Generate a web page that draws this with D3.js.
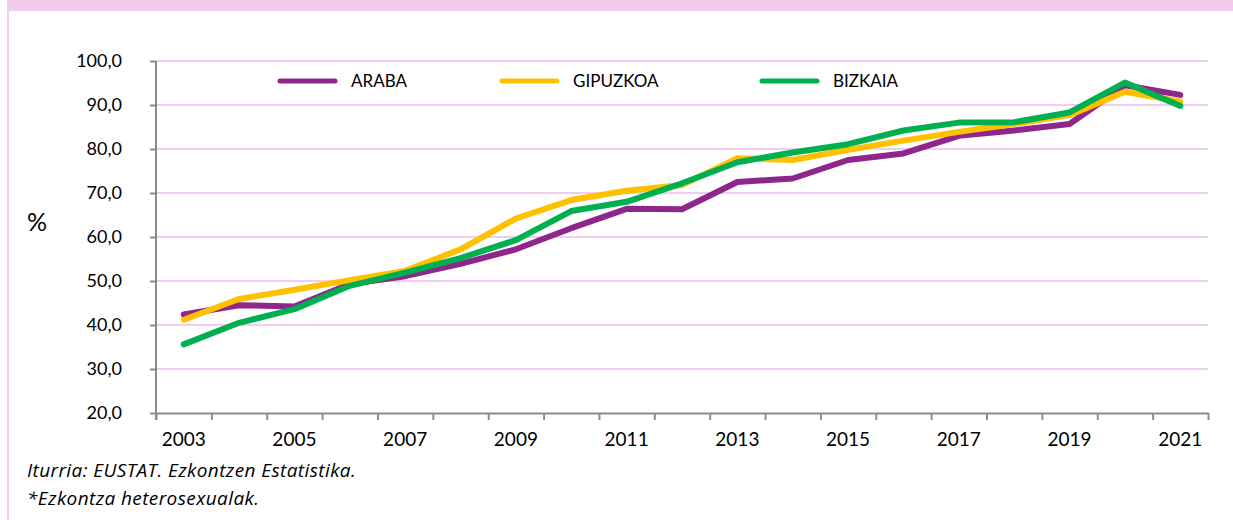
<!DOCTYPE html>
<html>
<head>
  <meta charset="utf-8">
  <title>Ezkontzak</title>
  <script src="https://d3js.org/d3.v7.min.js"></script>
  <style>
    body { margin: 0; background: #fff; }
    text { font-family: Lato, "Open Sans", sans-serif; fill: #000; }
  </style>
</head>
<body>
  <div id="chart"></div>

<script>
  // data
  const years = d3.range(2003, 2022);
  const yearLabels = [2003, 2005, 2007, 2009, 2011, 2013, 2015, 2017, 2019, 2021];
  const yTicks = [20, 30, 40, 50, 60, 70, 80, 90, 100];
  const araba    = [42.4, 44.5, 44.2, 49.3, 51.1, 53.9, 57.2, 62.0, 66.4, 66.3, 72.5, 73.3, 77.5, 79.0, 83.0, 84.2, 85.7, 94.5, 92.3];
  const gipuzkoa = [41.2, 45.9, 48.0, 50.2, 52.3, 57.2, 64.2, 68.4, 70.5, 71.8, 77.9, 77.5, 79.8, 81.9, 83.9, 85.7, 87.7, 93.0, 90.8];
  const bizkaia  = [35.6, 40.5, 43.6, 48.9, 51.9, 55.2, 59.3, 65.9, 68.0, 72.2, 77.0, 79.2, 81.1, 84.2, 86.0, 86.1, 88.3, 95.1, 89.8];
  const seriesNames = ["ARABA", "GIPUZKOA", "BIZKAIA"];
  const seriesColors = ["#8f268c", "#ffc000", "#00b050"];

  const series = [araba, gipuzkoa, bizkaia].map((vals, i) => ({
    name: seriesNames[i], color: seriesColors[i], values: vals
  }));

  const W = 1233, H = 520;
  const margin = {top: 61, right: 25, bottom: 107, left: 156};
  const width = W - margin.left - margin.right,
        height = H - margin.top - margin.bottom;

  const svg = d3.select("#chart").append("svg")
      .attr("width", W)
      .attr("height", H);

  svg.append("rect").attr("width", W).attr("height", H).attr("fill", "#fff");

  // pink frame: band on top, thin line on the left
  svg.append("rect").attr("x", 7).attr("y", 0).attr("width", W - 7).attr("height", 11).attr("fill", "#f0cbee");
  svg.append("rect").attr("x", 7).attr("y", 0).attr("width", 2).attr("height", H).attr("fill", "#f0cbee");

  const g = svg.append("g").attr("transform", `translate(${margin.left},${margin.top})`);

  const x = d3.scaleBand().domain(years).range([0, width]);
  const xIdx = d3.scaleLinear().domain([0, years.length]).range([0, width]);
  const y = d3.scaleLinear().domain([20, 100]).range([height, 0]);

  // gridlines
  g.append("g").selectAll("line")
    .data(yTicks.filter(d => d > 20))
    .join("line")
      .attr("x1", 0).attr("x2", width)
      .attr("y1", d => y(d)).attr("y2", d => y(d))
      .attr("stroke", "#f0cdf0")
      .attr("stroke-width", 2);

  // y axis
  const yAxis = g.append("g")
    .call(d3.axisLeft(y).tickValues(yTicks).tickSize(6).tickSizeOuter(0).tickPadding(28)
      .tickFormat(d => d3.format(".1f")(d).replace(".", ",")));
  yAxis.selectAll("text").style("font-size", "18px");

  // x axis: ticks on category boundaries, labels on odd years
  g.append("g")
    .attr("transform", `translate(0,${height})`)
    .call(d3.axisBottom(xIdx).tickValues(d3.range(0, years.length + 1)).tickSize(7).tickSizeOuter(0).tickFormat(""));
  const xLabAxis = g.append("g")
    .attr("transform", `translate(0,${height})`)
    .call(d3.axisBottom(x).tickValues(yearLabels).tickSize(0).tickPadding(20));
  xLabAxis.select(".domain").remove();
  xLabAxis.selectAll("text").style("font-size", "19px");

  g.selectAll(".domain, .tick line").attr("stroke", "#8c8c8c").attr("stroke-width", 2);
  yAxis.select(".domain").attr("d", `M0,${height + 7}V0`);

  // lines
  const line = d3.line()
    .x((d, i) => x(years[i]) + x.bandwidth() / 2)
    .y(d => y(d));

  g.selectAll(".serie")
    .data(series)
    .join("path")
      .attr("class", "serie")
      .attr("fill", "none")
      .attr("stroke", d => d.color)
      .attr("stroke-width", 6)
      .attr("stroke-linejoin", "round")
      .attr("stroke-linecap", "round")
      .attr("d", d => line(d.values));

  // legend
  const legendX = [280, 502, 762];
  const legend = svg.append("g").selectAll("g")
    .data(series)
    .join("g")
      .attr("transform", (d, i) => `translate(${legendX[i]},81)`);
  legend.append("line")
    .attr("x1", 0).attr("x2", 55)
    .attr("stroke", d => d.color)
    .attr("stroke-width", 5)
    .attr("stroke-linecap", "round");
  legend.append("text")
    .attr("x", 71).attr("dy", "0.36em")
    .style("font-size", "17px")
    .text(d => d.name);

  // y title
  svg.append("text")
    .attr("x", 27).attr("y", 231)
    .style("font-size", "25px")
    .text("%");

  // footnotes
  const notes = ["Iturria: EUSTAT. Ezkontzen Estatistika.", "*Ezkontza heterosexualak."];
  svg.append("g").selectAll("text")
    .data(notes)
    .join("text")
      .attr("x", 27)
      .attr("y", (d, i) => 477 + i * 28)
      .style("font-family", "'Open Sans', sans-serif")
      .style("font-size", "19px")
      .style("letter-spacing", "0.4px")
      .style("font-style", "italic")
      .text(d => d);
</script>
</body>
</html>
